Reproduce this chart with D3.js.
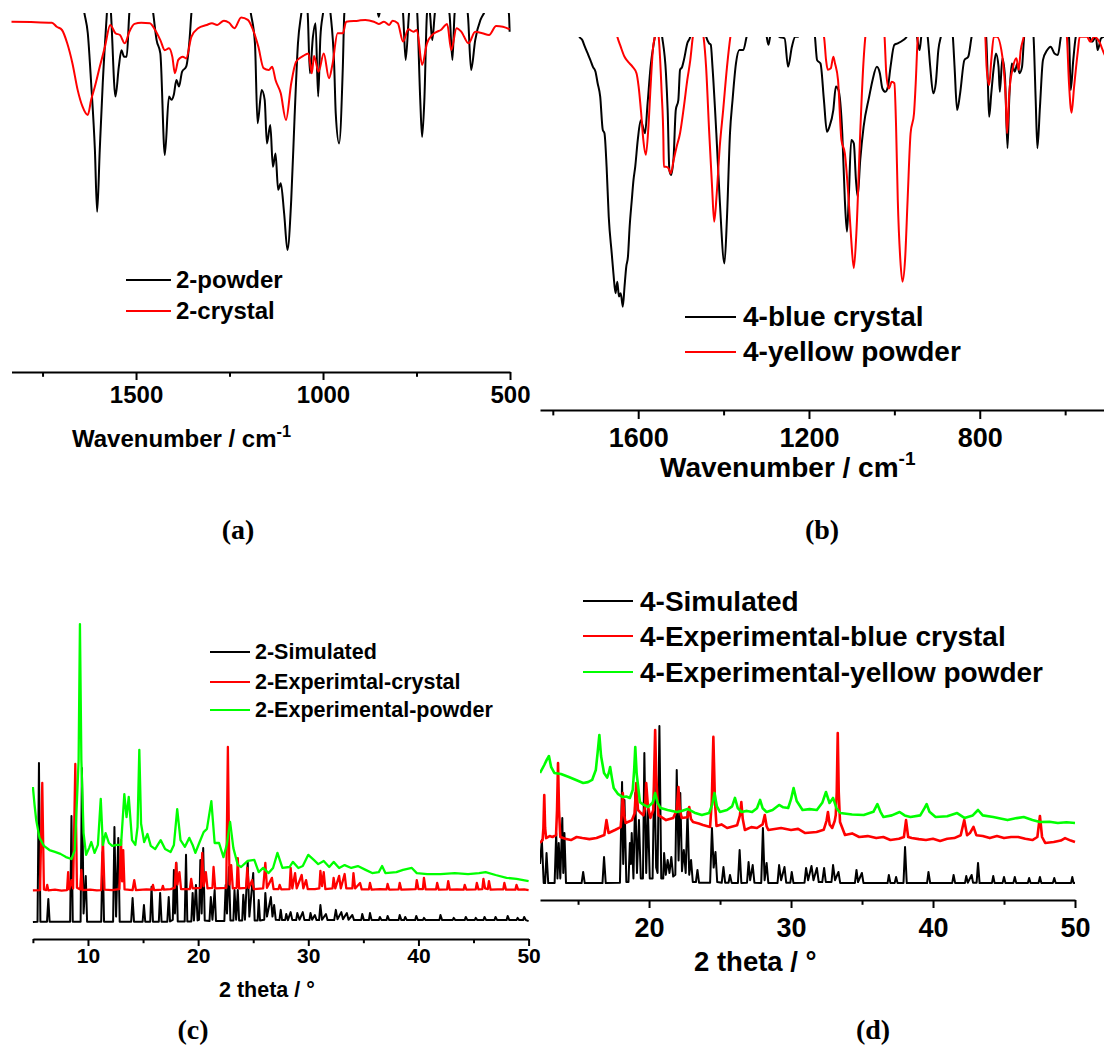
<!DOCTYPE html>
<html><head><meta charset="utf-8">
<script src="https://cdn.jsdelivr.net/npm/d3@7"></script>
<style>
body{margin:0;background:#fff}
svg{display:block}
text{font-family:"Liberation Sans",Arial,sans-serif;font-weight:bold;fill:#000}
text.cap{font-family:"Liberation Serif","Times New Roman",serif}
</style>
</head><body>
<svg id="fig" width="1104" height="1045"></svg>
<script>
// ---------------- DATA ----------------
// (a) IR, wavenumber (cm-1) vs transmittance (a.u.)
const irA_powder = [[1833,112],[1660,112],[1638,99.6],[1629,94.1],[1620,80.2],[1610,61.7],[1604,44.5],[1597,61.7],[1589,80.2],[1578,99.6],[1573,108],[1567,99.6],[1555,76.5],[1546,84.8],[1539,89.4],[1532,87.6],[1525,87.6],[1518,99.6],[1510,108],[1465,108],[1454,99.6],[1445,92.2],[1435,88.5],[1423,60.3],[1412,76.5],[1405,75.6],[1399,77.0],[1392,81.1],[1385,79.3],[1377,83.4],[1366,84.8],[1357,92.2],[1352,99.6],[1340,110],[1210,110],[1193,99.6],[1182,91.3],[1175,69.1],[1164,78.3],[1156,75.6],[1150,63.5],[1141,68.6],[1134,57.0],[1127,60.7],[1120,50.6],[1113,52.4],[1104,44.1],[1095,33.9],[1085,47.8],[1076,70.9],[1067,91.3],[1058,99.6],[1050,106],[1041,99.6],[1035,83.0],[1027,93.1],[1020,96.9],[1013,76.5],[1007,93.1],[1000,99.6],[990,106],[980,99.6],[970,84.8],[966,71.9],[957,63.5],[947,84.8],[943,99.6],[930,108],[860,104],[851,98.7],[842,104],[800,108],[786,99.6],[779,86.7],[770,99.6],[765,104],[752,104],[748,99.6],[740,75.6],[735,65.3],[729,75.6],[722,99.6],[718,102],[714,99.6],[708,92.2],[701,99.6],[690,106],[662,99.6],[654,86.7],[648,99.6],[630,106],[613,99.6],[604,83.9],[593,92.2],[579,97.8],[570,99.6],[540,106],[503,99.6],[501,94.5]];
const irA_crystal = [[1833,97.3],[1781,97.2],[1725,97.0],[1712,95.9],[1698,95.0],[1684,91.3],[1670,85.7],[1656,78.3],[1643,73.7],[1629,71.4],[1620,75.6],[1610,79.3],[1597,84.8],[1583,90.4],[1569,96.4],[1555,94.1],[1543,93.6],[1530,91.3],[1518,94.5],[1504,96.7],[1486,97.0],[1463,96.9],[1449,95.0],[1435,92.2],[1423,89.4],[1412,89.9],[1403,87.6],[1396,83.0],[1387,86.7],[1375,87.6],[1366,87.1],[1352,93.1],[1334,95.5],[1311,96.4],[1297,96.9],[1283,96.4],[1265,97.6],[1251,97.0],[1237,95.5],[1219,98.5],[1201,97.8],[1187,95.0],[1173,90.4],[1159,84.4],[1145,83.9],[1136,84.8],[1127,81.1],[1113,77.4],[1099,70.0],[1085,80.2],[1072,86.2],[1053,87.8],[1039,88.5],[1030,83.0],[1024,87.8],[1012,83.4],[998,88.5],[984,81.6],[975,85.3],[961,94.1],[947,94.1],[938,97.3],[906,97.6],[887,97.8],[864,97.3],[851,96.7],[837,97.3],[823,96.4],[814,97.6],[800,96.9],[786,91.8],[772,95.2],[758,94.5],[749,95.0],[735,85.3],[722,91.3],[708,93.6],[696,94.5],[685,95.0],[668,96.7],[657,89.4],[643,95.5],[630,94.5],[611,91.3],[593,94.5],[574,94.1],[556,93.6],[537,96.1],[519,95.9],[501,95.2]];
const ticksA = [1500,1000,500], minorA = [1750,1250,750];

// (b) IR
const irB_blue = [[1830,115],[1742,105],[1738,100.1],[1731,99.2],[1725,97.4],[1717,95.2],[1712,93.8],[1706,92.0],[1700,90.7],[1695,87.6],[1689,84.0],[1683,75.1],[1679,74.2],[1674,65.2],[1669,51.8],[1662,42.0],[1658,36.6],[1653,31.3],[1649,34.4],[1645,30.4],[1641,31.3],[1636,27.7],[1632,33.1],[1628,38.4],[1624,41.1],[1620,49.2],[1615,56.3],[1611,61.7],[1607,65.2],[1601,72.4],[1594,77.7],[1584,74.2],[1578,82.2],[1571,92.0],[1561,100.1],[1553,106],[1544,100.1],[1535,90.3],[1531,80.4],[1527,64.3],[1523,63.0],[1517,67.9],[1512,80.4],[1506,83.1],[1502,91.2],[1497,92.0],[1493,93.8],[1485,98.3],[1478,100.1],[1470,106],[1452,106],[1441,100.1],[1434,98.3],[1430,97.9],[1426,92.0],[1417,74.2],[1409,56.3],[1398,39.3],[1392,51.8],[1385,74.2],[1379,83.1],[1371,92.9],[1363,96.5],[1354,96.5],[1346,100.1],[1330,106],[1305,106],[1299,100.1],[1295,97.9],[1291,100.1],[1280,104],[1270,100.1],[1257,99.6],[1249,92.0],[1240,97.4],[1232,100.1],[1225,100.1],[1215,106],[1192,106],[1186,100.1],[1181,93.8],[1173,92.9],[1165,83.1],[1158,74.6],[1152,76.0],[1143,80.4],[1137,86.7],[1131,85.8],[1122,74.2],[1116,56.3],[1111,47.8],[1107,56.3],[1101,72.4],[1095,71.5],[1090,61.7],[1086,57.2],[1080,67.0],[1072,76.0],[1059,84.0],[1051,88.5],[1041,92.0],[1034,90.3],[1028,86.2],[1021,85.3],[1015,86.7],[1009,92.0],[1000,97.9],[992,98.3],[979,99.2],[971,100.1],[965,104],[952,104],[947,100.1],[941,96.5],[937,100.1],[930,104],[922,100.1],[916,92.0],[909,84.9],[903,87.6],[897,96.5],[891,100.1],[880,104],[868,104],[863,100.1],[859,92.0],[853,80.4],[846,84.9],[836,93.8],[827,94.7],[819,100.1],[810,104],[790,104],[785,100.1],[781,87.6],[778,78.6],[773,84.9],[767,92.0],[762,95.6],[756,92.0],[753,85.3],[747,94.3],[741,89.4],[735,70.2],[731,83.1],[725,92.9],[718,90.7],[712,92.9],[707,90.3],[701,92.0],[696,100.1],[688,104],[678,104],[674,100.1],[669,83.1],[665,70.2],[659,81.3],[652,93.8],[642,96.5],[634,97.4],[625,95.6],[617,95.2],[610,100.1],[600,104],[591,100.1],[587,85.8],[581,93.8],[575,100.1],[560,104],[543,100.1],[537,98.7],[528,100.1],[524,96.5],[516,99.6],[509,100.1],[490,102]];
const irB_yellow = [[1830,110],[1660,106],[1649,100.1],[1641,97.4],[1632,94.7],[1624,93.4],[1613,92.0],[1604,90.3],[1599,86.7],[1593,79.5],[1588,72.4],[1582,68.4],[1576,76.0],[1571,86.7],[1565,97.4],[1561,100.1],[1557,104],[1552,100.1],[1545,84.9],[1541,72.4],[1540,65.2],[1535,65.2],[1529,64.8],[1524,63.4],[1517,67.0],[1510,70.6],[1502,74.2],[1493,81.3],[1485,88.5],[1478,93.8],[1472,100.1],[1460,106],[1447,100.1],[1441,92.0],[1434,75.1],[1427,59.9],[1422,50.5],[1416,58.1],[1409,70.6],[1401,80.4],[1392,92.0],[1384,100.1],[1370,106],[1200,106],[1165,100.1],[1160,93.8],[1156,91.2],[1149,91.6],[1143,94.7],[1139,92.9],[1132,88.5],[1124,72.4],[1116,68.8],[1107,56.3],[1101,45.6],[1095,38.0],[1089,47.4],[1080,74.2],[1073,92.0],[1068,100.1],[1060,106],[1030,106],[1023,100.1],[1019,90.3],[1013,86.2],[1006,88.0],[1000,87.6],[996,76.0],[992,56.3],[986,40.2],[981,34.4],[975,40.2],[969,56.3],[962,74.2],[954,79.5],[950,87.6],[945,100.1],[935,106],[795,106],[787,100.1],[784,92.0],[778,87.1],[773,93.8],[767,100.1],[760,100.1],[747,94.7],[739,83.1],[736,74.2],[731,84.9],[722,92.0],[714,94.3],[709,91.2],[704,96.5],[697,100.1],[690,106],[605,106],[596,100.1],[591,87.6],[585,79.7],[579,86.7],[570,96.5],[566,100.1],[549,100.1],[541,98.7],[532,100.1],[520,98.7],[509,95.6],[490,92]];
const ticksB = [1600,1200,800], minorB = [1800,1400,1000,600];

// (c) PXRD, 2theta (deg) vs intensity (a.u., offset)
const xrd2_sim = [[5.0,5.3],[5.42,5.4],[5.55,55.0],[5.68,5.4],[6.28,5.4],[6.4,12.5],[6.52,5.4],[8.38,5.4],[8.5,38.4],[8.62,5.4],[9.33,5.4],[9.45,53.4],[9.6,8],[9.8,19.7],[9.92,5.4],[11.2,5.4],[11.33,27.2],[11.46,5.4],[12.28,5.4],[12.4,35.0],[12.55,7],[12.75,31.6],[12.88,5.4],[13.92,5.4],[14.05,12.8],[14.18,5.4],[14.96,5.4],[15.08,10.6],[15.2,5.4],[15.65,5.4],[15.77,16.3],[15.9,5.4],[16.43,5.4],[16.55,14.4],[16.68,5.4],[17.2,5.4],[17.33,13.1],[17.45,5.5],[17.7,6],[17.8,21.6],[17.9,8],[18.02,23.8],[18.15,5.5],[18.78,5.5],[18.9,26.3],[19.02,5.5],[19.38,5.5],[19.5,14.4],[19.62,5.8],[19.8,16.9],[19.95,5.8],[20.08,6],[20.2,24.7],[20.32,8],[20.46,28.4],[20.6,5.8],[21.03,5.6],[21.15,13.1],[21.3,6],[21.5,15.3],[21.62,5.6],[22.38,5.6],[22.5,16.9],[22.62,8],[22.8,22.5],[22.93,5.8],[23.2,5.8],[23.3,15.3],[23.45,6],[23.6,15.3],[23.72,5.8],[24.0,5.8],[24.1,13.8],[24.25,6],[24.5,24.1],[24.65,7],[25.0,20.6],[25.13,5.8],[25.4,5.8],[25.5,12.2],[25.62,5.8],[26.0,6],[26.1,14.4],[26.25,7],[26.6,13.1],[26.75,7],[26.9,10.6],[27.05,6],[27.38,5.9],[27.5,9.1],[27.62,5.9],[27.9,5.9],[28.0,7.8],[28.15,5.9],[28.4,8.4],[28.55,5.9],[28.9,5.9],[29.0,8.1],[29.2,6],[29.5,8.4],[29.65,5.9],[30.1,5.9],[30.2,8.1],[30.35,6],[30.6,7.5],[30.75,5.9],[30.98,5.9],[31.1,10.6],[31.25,6],[31.6,7.8],[31.75,5.9],[32.35,5.9],[32.5,9.1],[32.65,6.2],[33.0,8.4],[33.15,6.2],[33.5,8.1],[33.65,6],[34.0,7.5],[34.15,5.9],[34.8,5.9],[34.9,7.8],[35.05,5.9],[35.5,5.9],[35.6,8.1],[35.75,5.9],[36.4,5.9],[36.5,6.9],[36.65,5.9],[37.1,5.9],[37.2,7.2],[37.35,5.9],[38.2,5.9],[38.3,7.5],[38.45,5.9],[38.7,5.9],[38.8,6.9],[38.95,5.9],[39.7,5.9],[39.8,7.2],[39.95,5.9],[40.4,5.9],[40.5,6.6],[40.65,5.9],[41.9,5.9],[42.0,7.5],[42.15,5.9],[43.1,5.9],[43.2,6.6],[43.35,5.9],[44.2,5.9],[44.3,6.9],[44.45,5.9],[45.1,5.9],[45.2,6.6],[45.35,5.9],[45.9,5.9],[46.0,6.9],[46.15,5.9],[46.9,5.9],[47.0,6.9],[47.15,5.9],[48.0,5.9],[48.1,7.2],[48.25,5.9],[48.9,5.9],[49.0,6.6],[49.15,5.9],[49.5,5.9],[49.6,6.9],[49.75,5.9],[50.0,5.6]];
const xrd2_crystal = [[5.0,15.2],[5.65,15.3],[5.85,48.8],[6.0,15.5],[6.2,15.3],[6.3,16.9],[6.4,15.2],[7.0,15.4],[7.6,15.1],[8.1,15.3],[8.2,20.9],[8.3,15.5],[8.5,18.4],[8.65,15.8],[8.85,54.7],[9.0,16],[9.3,15.5],[9.4,21.6],[9.5,15.3],[10.2,15.4],[10.8,15.2],[11.2,15.3],[11.35,31.6],[11.5,15.4],[12.2,15.3],[12.85,15.6],[13.0,30.9],[13.1,18],[13.2,27.8],[13.32,15.5],[14.05,15.3],[14.2,18.4],[14.35,15.3],[15.3,15.5],[15.8,15.4],[15.9,16.9],[16.0,15.3],[16.7,15.4],[16.8,16.6],[16.9,15.4],[17.5,15.6],[17.88,16],[18.0,23.8],[18.12,17],[18.3,20.9],[18.45,15.6],[19.25,15.6],[19.37,18.8],[19.5,15.8],[20.25,16],[20.37,26.9],[20.5,16.5],[20.7,20.9],[20.85,15.8],[21.3,16],[21.4,22.5],[21.55,15.8],[22.55,16],[22.7,60.0],[22.85,17],[23.0,23.1],[23.15,15.8],[23.5,16],[23.6,25.3],[23.72,15.8],[24.35,16],[24.46,22.2],[24.6,16],[24.9,18.4],[25.05,15.6],[25.9,15.8],[26.1,23.8],[26.25,16],[26.7,19.1],[26.85,15.6],[27.3,15.6],[27.4,16.9],[27.55,15.5],[28.3,15.6],[28.4,22.2],[28.55,15.8],[28.8,20.6],[28.95,15.8],[29.4,20.0],[29.55,15.8],[29.8,18.4],[29.95,15.6],[30.6,15.6],[31.0,15.8],[31.1,21.3],[31.25,16.5],[31.4,20.9],[31.55,15.6],[32.2,15.8],[32.3,19.1],[32.45,15.8],[32.8,19.7],[32.95,15.8],[33.3,20.3],[33.45,15.8],[34.0,15.8],[34.1,20.6],[34.25,15.8],[34.7,17.5],[34.85,15.5],[35.5,15.5],[35.6,17.5],[35.75,15.4],[36.5,15.6],[37.1,15.5],[37.2,17.2],[37.35,15.4],[38.2,15.5],[38.3,17.5],[38.45,15.4],[39.2,15.5],[39.75,15.6],[39.85,18.4],[40.0,15.6],[40.4,15.6],[40.5,19.1],[40.65,15.5],[41.6,15.5],[41.7,17.5],[41.85,15.4],[42.6,15.5],[42.7,18.1],[42.85,15.4],[43.5,15.5],[44.1,15.4],[44.2,16.9],[44.35,15.4],[45.2,15.5],[45.3,17.5],[45.45,15.5],[45.8,15.6],[45.9,18.8],[46.05,15.8],[46.3,15.6],[46.4,18.1],[46.55,15.4],[47.2,15.5],[47.7,15.5],[47.8,17.5],[47.95,15.4],[48.8,15.4],[48.9,16.9],[49.05,15.4],[49.6,15.5],[50.0,15.3]];
const xrd2_powder = [[5.0,47.5],[5.15,41.9],[5.3,37.2],[5.6,31.6],[6.0,29.1],[6.5,27.8],[7.0,27.2],[7.5,26.6],[8.0,25.6],[8.5,25.0],[8.8,27.8],[9.0,43.4],[9.15,55.9],[9.27,98.4],[9.4,55.9],[9.6,33.1],[9.83,26.3],[10.1,28.4],[10.3,30.3],[10.6,26.9],[10.9,29.4],[11.16,43.8],[11.35,29.4],[11.6,33.1],[11.9,30.0],[12.2,29.1],[12.6,29.4],[13.0,29.4],[13.3,45.3],[13.5,38.1],[13.7,44.4],[14.0,30.9],[14.3,29.4],[14.5,35],[14.66,59.1],[14.82,36],[15.1,30.3],[15.4,32.8],[15.7,29.1],[16.1,28.1],[16.6,30.9],[17.0,28.1],[17.5,27.2],[17.8,29.4],[18.1,40.6],[18.4,30.9],[18.8,28.8],[19.2,31.6],[19.5,29.4],[19.75,26.9],[20.1,30.0],[20.5,33.4],[20.8,34.4],[21.2,43.1],[21.5,30.0],[21.9,30.0],[22.3,25.6],[22.6,29.4],[22.9,36.6],[23.2,28.4],[23.6,23.1],[23.9,22.5],[24.5,24.4],[25.1,24.7],[25.5,20.9],[25.9,22.2],[26.4,20.6],[26.8,22.2],[27.2,26.9],[27.65,22.2],[28.3,22.5],[28.6,24.1],[29.1,22.2],[29.5,22.8],[30.0,26.3],[30.5,24.7],[30.9,23.4],[31.4,24.4],[31.9,22.5],[32.3,24.1],[32.8,22.2],[33.3,23.1],[33.9,22.2],[34.5,22.8],[35.2,21.6],[35.8,20.6],[36.4,20.9],[36.7,22.8],[37.0,20.6],[38.0,20.9],[38.6,21.6],[39.4,22.2],[39.85,20.6],[40.8,20.3],[42.0,20.3],[43.3,20.6],[44.5,20.3],[45.5,20.6],[46.1,20.9],[47.0,20.0],[48.0,19.1],[48.9,18.8],[50.0,18.1]];
const ticksC = [10,20,30,40,50], minorC = [5,15,25,35,45];

// (d) PXRD
const xrd4_sim = [[12.32,20],[12.45,33.3],[12.58,9.4],[12.68,9.4],[12.78,26.1],[12.9,9.4],[13.35,9.5],[13.46,37.2],[13.55,12],[13.64,31.7],[13.75,12],[13.89,45.6],[13.96,15],[14.04,37.2],[14.15,9.5],[15.25,9.4],[15.36,15.6],[15.47,9.4],[16.72,9.4],[16.83,23.9],[16.95,9.4],[17.95,9.6],[18.1,65.6],[18.18,20],[18.27,55.6],[18.4,10],[18.55,10],[18.65,31.7],[18.72,20],[18.78,37.2],[18.9,12],[19.03,59.4],[19.15,15],[19.29,44.4],[19.42,12],[19.57,12],[19.67,81.7],[19.8,15],[19.92,50.0],[20.05,12],[20.25,12],[20.37,73.9],[20.5,18],[20.6,15],[20.73,96.7],[20.86,12],[21.0,12],[21.06,26.1],[21.18,14],[21.31,22.2],[21.44,15],[21.57,23.9],[21.7,13],[21.85,14],[21.95,72.2],[22.08,22],[22.2,59.4],[22.32,16],[22.45,27.8],[22.58,15],[22.71,48.9],[22.83,14],[22.96,22.2],[23.08,10],[23.3,10],[23.41,16.7],[23.52,9.6],[24.3,9.6],[24.43,40.0],[24.55,18],[24.68,26.7],[24.8,10],[25.12,9.6],[25.24,18.3],[25.36,9.6],[25.6,9.6],[25.7,13.9],[25.82,9.5],[26.26,9.5],[26.38,27.8],[26.5,9.5],[26.9,9.6],[27.01,21.1],[27.12,11],[27.3,19.4],[27.42,9.6],[27.9,9.5],[28.02,40.0],[28.14,11],[28.28,20.6],[28.4,9.5],[29.05,9.5],[29.16,19.4],[29.3,11],[29.54,18.3],[29.66,9.6],[29.95,9.6],[30.05,15.6],[30.17,9.5],[30.95,9.6],[31.06,17.8],[31.2,11],[31.44,18.9],[31.58,11],[31.82,17.8],[31.95,10],[32.2,10],[32.33,17.8],[32.45,10],[32.85,10],[32.96,19.4],[33.1,11],[33.34,15.6],[33.46,9.5],[34.5,9.5],[34.61,16.7],[34.72,10],[34.99,15.0],[35.1,9.5],[36.8,9.4],[36.89,13.9],[37.0,9.4],[37.3,9.4],[37.4,12.8],[37.5,9.4],[37.92,9.4],[38.03,29.4],[38.15,9.4],[39.58,9.4],[39.68,15.6],[39.8,9.4],[41.35,9.4],[41.45,13.9],[41.56,9.4],[42.25,9.4],[42.34,13.3],[42.45,9.6],[42.72,13.9],[42.82,9.6],[43.07,9.6],[43.17,20.6],[43.28,9.4],[44.15,9.4],[44.24,13.3],[44.34,9.4],[44.9,9.4],[45.0,12.8],[45.1,9.4],[45.66,9.4],[45.76,12.8],[45.86,9.4],[46.68,9.4],[46.77,12.2],[46.87,9.4],[47.43,9.4],[47.53,12.8],[47.63,9.4],[48.44,9.4],[48.54,12.2],[48.64,9.4],[49.72,9.4],[49.81,12.8],[49.9,9.4],[50.0,9.4]];
const xrd4_blue = [[12.32,31.7],[12.5,33.3],[12.56,40],[12.62,58.3],[12.68,40],[12.75,34.4],[13.0,35.5],[13.2,35.0],[13.45,36],[13.52,50],[13.59,76.1],[13.66,50],[13.75,35.0],[14.1,34],[14.5,33.3],[14.9,35],[15.3,34.4],[15.8,33.8],[16.3,34.4],[16.85,36.1],[17.0,44.4],[17.15,37.2],[17.6,38.9],[18.0,40.5],[18.08,48],[18.15,59.4],[18.25,47],[18.35,42.8],[18.8,44.4],[18.98,48],[19.1,65.0],[19.22,50],[19.35,48.9],[19.6,47],[19.72,52],[19.8,65.0],[19.92,52],[20.1,45.6],[20.3,50],[20.36,70],[20.43,94.4],[20.5,70],[20.65,47.2],[21.2,44.4],[21.7,45.6],[21.95,50],[22.07,62.8],[22.17,50],[22.3,45.6],[22.72,46],[22.83,51.7],[22.95,45],[23.1,43.3],[23.5,42.5],[23.8,41.7],[24.3,40.6],[24.42,55],[24.53,90.6],[24.64,55],[24.75,41.1],[25.1,42],[25.5,40.0],[26.2,41.5],[26.4,47],[26.5,54.4],[26.6,45],[26.75,38.9],[27.2,40.5],[27.6,40.0],[28.0,42],[28.15,47.2],[28.28,41],[28.4,38.9],[29.3,40.0],[30.0,38.9],[30.5,39.5],[31.0,37.2],[31.8,37.8],[32.3,39],[32.5,44],[32.6,48.9],[32.72,42],[32.9,40.0],[33.08,44],[33.15,47.2],[33.22,60],[33.29,92.8],[33.36,60],[33.45,43.3],[33.8,36.1],[34.3,37],[34.8,35.0],[35.4,35.5],[36.0,34.4],[36.5,35],[37.0,33.3],[37.6,34],[37.95,35],[38.1,44.4],[38.25,35],[38.5,34.4],[39.0,33.8],[39.5,33.3],[40.0,34],[40.5,32.8],[41.0,34],[41.5,34.4],[41.95,36],[42.2,44.4],[42.4,36],[42.6,37.2],[42.85,40.6],[43.05,36],[43.5,35.6],[44.0,34.4],[44.5,35.5],[45.0,34.4],[45.5,35],[46.0,35.0],[46.5,34],[47.0,33.3],[47.35,35],[47.53,46.7],[47.68,35],[47.9,31.7],[48.5,32.2],[49.0,33],[49.3,34.4],[49.7,33],[50.0,32.2]];
const xrd4_yellow = [[12.32,70.6],[12.62,75.0],[12.8,78],[12.95,80.0],[13.1,74],[13.33,70.6],[13.8,70],[14.35,68.3],[14.9,66.5],[15.36,65.0],[15.7,65.5],[15.99,66.7],[16.25,72.2],[16.38,82],[16.5,91.7],[16.62,80],[16.83,70.6],[17.05,68],[17.18,71],[17.26,73.9],[17.38,68],[17.51,62.2],[17.8,59],[18.15,57.2],[18.4,57.5],[18.65,56.7],[18.85,61.1],[18.95,72],[19.03,85.0],[19.13,70],[19.36,54.4],[19.6,53],[19.92,51.7],[20.25,54],[20.43,59.4],[20.6,54],[20.81,51.1],[21.3,50],[21.95,48.9],[22.3,49.5],[22.71,50.6],[23.2,48.5],[23.72,47.2],[24.23,48.3],[24.45,53],[24.61,59.4],[24.78,52],[24.99,48.9],[25.49,50.0],[25.85,52],[26.05,56.7],[26.25,51],[26.5,48.9],[26.9,49.5],[27.26,48.9],[27.6,51],[27.82,55.6],[28.0,51],[28.28,48.9],[28.7,50],[29.16,52.8],[29.45,51.5],[29.8,51.1],[30.0,56],[30.18,62.2],[30.4,55],[30.81,50.0],[31.3,50.5],[31.82,50.0],[32.2,54],[32.46,60.0],[32.71,53.9],[32.96,56.7],[33.2,51],[33.47,48.3],[34.3,47.5],[35.12,47.2],[35.8,49],[36.08,53.3],[36.3,49],[36.51,46.1],[37.1,47],[37.65,48.9],[38.0,47],[38.41,46.1],[39.1,47],[39.4,51],[39.55,53.3],[39.75,49],[40.18,46.1],[41.0,46.5],[41.7,48.3],[42.21,45.6],[42.8,47],[43.17,50.0],[43.5,47],[44.24,46.1],[45.25,44.4],[45.9,45.5],[46.39,46.1],[47.0,44.5],[47.53,43.3],[48.2,43.5],[48.79,42.8],[49.4,43.2],[50.0,42.8]];
const ticksD = [20,30,40,50], minorD = [15,25,35,45];

const namesA = ["2-powder","2-crystal"];
const namesB = ["4-blue crystal","4-yellow powder"];
const namesC = ["2-Simulated","2-Experimtal-crystal","2-Experimental-powder"];
const namesD = ["4-Simulated","4-Experimental-blue crystal","4-Experimental-yellow powder"];
const captions = ["(a)","(b)","(c)","(d)"];

// ---------------- DRAW ----------------
const svg = d3.select("#fig");
const defs = svg.append("defs");

function panel(c){
  const x = d3.scaleLinear().domain(c.xd).range(c.xr);
  const y = d3.scaleLinear().domain([0,100]).range(c.yr);
  defs.append("clipPath").attr("id","clip"+c.id).append("rect")
    .attr("x",c.clip[0]).attr("y",c.clip[1]).attr("width",c.clip[2]-c.clip[0]).attr("height",c.clip[3]-c.clip[1]);
  const g = svg.append("g").attr("clip-path",`url(#clip${c.id})`);
  c.series.forEach(s=>{
    const ln = d3.line().x(d=>x(d[0])).y(d=>y(d[1])).curve(c.curve);
    g.append("path").attr("d",ln(s.data)).attr("fill","none").attr("stroke",s.color)
      .attr("stroke-width",s.w||2).attr("stroke-linejoin","round");
  });
  // axis
  const ay = c.yr[0];
  const ax = svg.append("g").attr("transform",`translate(0,${ay})`);
  ax.call(d3.axisBottom(x).tickValues(c.major).tickSize(c.tl).tickSizeOuter(0).tickFormat(d3.format("d")));
  ax.select(".domain").attr("stroke","#000").attr("stroke-width",2);
  ax.selectAll(".tick line").attr("stroke","#000").attr("stroke-width",2);
  ax.selectAll(".tick text").attr("y",c.lb-ay).attr("dy",0).style("font-size",c.fs+"px");
  const mx = svg.append("g").attr("transform",`translate(0,${ay})`);
  mx.call(d3.axisBottom(x).tickValues(c.minor).tickSize(c.tl*0.6).tickSizeOuter(0).tickFormat(""));
  mx.select(".domain").remove();
  mx.selectAll(".tick line").attr("stroke","#000").attr("stroke-width",2);
  // title
  const t = svg.append("text").attr("x",c.title.x).attr("y",c.title.y).style("font-size",c.title.fs+"px").text(c.title.text);
  if(c.title.sup) t.append("tspan").attr("dy",-c.title.fs*0.42).style("font-size",(c.title.fs*0.68)+"px").text(c.title.sup);
  // legend
  c.legend.items.forEach((it,i)=>{
    const ly = c.legend.ys[i];
    svg.append("line").attr("x1",c.legend.x1).attr("x2",c.legend.x2).attr("y1",ly).attr("y2",ly)
      .attr("stroke",c.series[i].color).attr("stroke-width",2);
    svg.append("text").attr("x",c.legend.tx).attr("y",ly+c.legend.dy).style("font-size",c.legend.fs+"px").text(it);
  });
  svg.append("text").attr("class","cap").attr("x",c.cap[0]).attr("y",c.cap[1]).attr("text-anchor","middle")
    .style("font-size","28px").text(c.capText);
}

panel({id:"a", xd:[1833,500], xr:[11.5,510], yr:[372,12], clip:[11,13,511,372],
  curve:d3.curveMonotoneX,
  series:[{data:irA_powder,color:"#000"},{data:irA_crystal,color:"#ff0000"}],
  major:ticksA, minor:minorA, tl:8, fs:24, lb:403,
  title:{text:"Wavenumber / cm",sup:"-1",x:72,y:447,fs:24},
  legend:{items:namesA, ys:[280,311], x1:126, x2:171, tx:176, dy:8, fs:24},
  cap:[238,539], capText:captions[0]});

panel({id:"b", xd:[1830,509], xr:[540,1104], yr:[410,37], clip:[540,37,1104,410],
  curve:d3.curveMonotoneX,
  series:[{data:irB_blue,color:"#000"},{data:irB_yellow,color:"#ff0000"}],
  major:ticksB, minor:minorB, tl:9, fs:27, lb:447,
  title:{text:"Wavenumber / cm",sup:"-1",x:660,y:477,fs:28},
  legend:{items:namesB, ys:[317,352], x1:685, x2:736, tx:743, dy:9, fs:28},
  cap:[822,539], capText:captions[1]});

panel({id:"c", xd:[5,50], xr:[32.9,528.6], yr:[939,619], clip:[32,600,530,939],
  curve:d3.curveLinear,
  series:[{data:xrd2_sim,color:"#000"},{data:xrd2_crystal,color:"#ff0000",w:2.3},{data:xrd2_powder,color:"#00ff00",w:2.3}],
  major:ticksC, minor:minorC, tl:7, fs:21, lb:963,
  title:{text:"2 theta / °",x:219,y:997,fs:21.5},
  legend:{items:namesC, ys:[652,682,710], x1:210, x2:250, tx:255, dy:7, fs:21.5},
  cap:[193,1039], capText:captions[2]});

panel({id:"d", xd:[12.32,50], xr:[540,1075], yr:[900,720], clip:[540,690,1076,900],
  curve:d3.curveLinear,
  series:[{data:xrd4_sim,color:"#000"},{data:xrd4_blue,color:"#ff0000",w:2.6},{data:xrd4_yellow,color:"#00ff00",w:2.6}],
  major:ticksD, minor:minorD, tl:8, fs:27, lb:937,
  title:{text:"2 theta / °",x:694,y:971,fs:27.5},
  legend:{items:namesD, ys:[601,636,672], x1:583, x2:633, tx:640, dy:10, fs:28},
  cap:[873,1039], capText:captions[3]});
</script>
</body></html>
